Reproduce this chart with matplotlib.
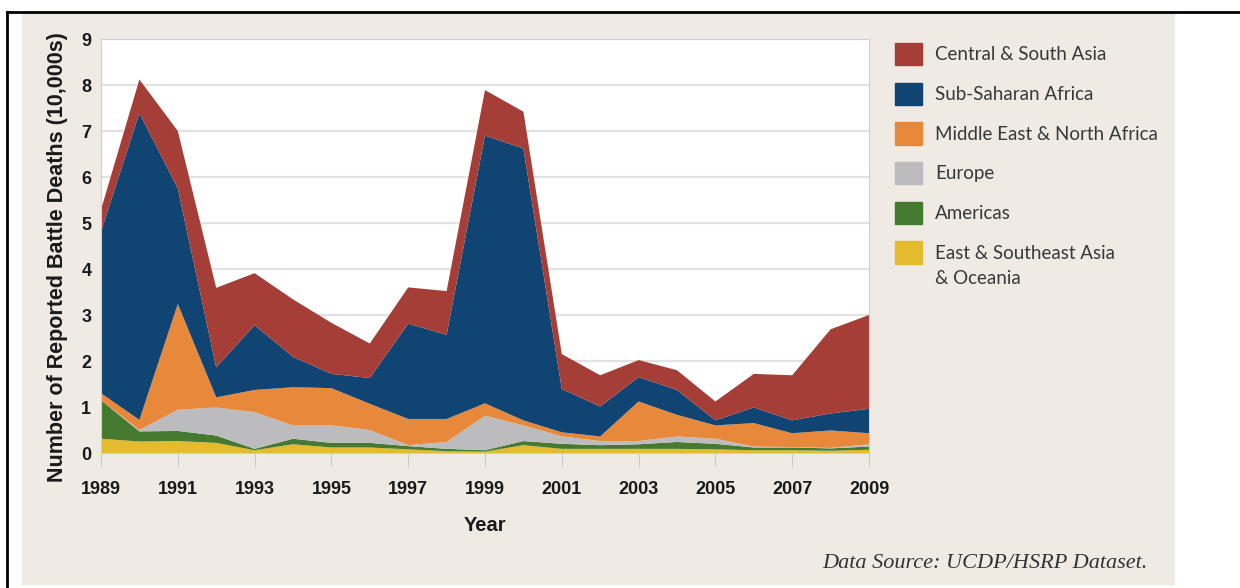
import matplotlib.pyplot as plt
from matplotlib.patches import Patch, Rectangle
from matplotlib.lines import Line2D

years = list(range(1989, 2010))

# battle deaths per region, in 10,000s
east_asia = [0.31, 0.25, 0.26, 0.22, 0.06, 0.19, 0.12, 0.12, 0.08, 0.04, 0.03,
             0.17, 0.09, 0.09, 0.09, 0.09, 0.08, 0.06, 0.06, 0.05, 0.07]
americas = [0.84, 0.22, 0.22, 0.16, 0.03, 0.12, 0.10, 0.10, 0.07, 0.05, 0.03,
            0.09, 0.11, 0.08, 0.10, 0.15, 0.12, 0.06, 0.06, 0.05, 0.07]
europe = [0.00, 0.03, 0.46, 0.61, 0.80, 0.29, 0.38, 0.28, 0.02, 0.15, 0.75,
          0.34, 0.16, 0.09, 0.07, 0.12, 0.11, 0.02, 0.01, 0.01, 0.05]
mena = [0.15, 0.22, 2.30, 0.22, 0.48, 0.83, 0.81, 0.57, 0.57, 0.50, 0.27,
        0.11, 0.09, 0.10, 0.86, 0.47, 0.29, 0.51, 0.30, 0.38, 0.24]
ssa = [3.51, 6.67, 2.51, 0.65, 1.41, 0.66, 0.31, 0.56, 2.07, 1.83, 5.82,
       5.91, 0.94, 0.65, 0.53, 0.54, 0.11, 0.34, 0.28, 0.37, 0.53]
csa = [0.48, 0.73, 1.25, 1.73, 1.13, 1.25, 1.11, 0.75, 0.79, 0.95, 0.99,
       0.80, 0.76, 0.68, 0.37, 0.43, 0.41, 0.73, 0.98, 1.83, 2.04]

labels = ['East & Southeast Asia', 'Americas', 'Europe',
          'Middle East & North Africa', 'Sub-Saharan Africa', 'Central & South Asia']
colors = ['#e3bb2c', '#467a30', '#bcbcbf', '#e8883a', '#0f4473', '#a63e38']

fig = plt.figure(figsize=(12.4, 5.88), dpi=100, facecolor='white')

# page decoration: beige panel + black border lines
fig.patches.append(Rectangle((22/1240, 1-584/588), (1174-22)/1240, (584-14)/588,
                             transform=fig.transFigure, color='#efebe4', zorder=-5))
fig.lines.append(Line2D([7/1240, 1], [1-12/588, 1-12/588], transform=fig.transFigure,
                        color='black', lw=2))
fig.lines.append(Line2D([7/1240, 7/1240], [0, 1-12/588], transform=fig.transFigure,
                        color='black', lw=2))

ax = fig.add_axes([101/1240, 1-453/588, (869-101)/1240, (453-39)/588])
ax.set_facecolor('white')
ax.stackplot(years, east_asia, americas, europe, mena, ssa, csa,
             colors=colors, labels=labels, lw=0)

ax.set_xlim(1989, 2009)
ax.set_ylim(0, 9)
ax.set_yticks(range(0, 10))
ax.set_xticks(range(1989, 2010, 2))
ax.grid(axis='y', color='#e2e2e2', lw=1.6)
ax.set_axisbelow(True)
for s in ax.spines.values():
    s.set_color('#d0d0d0')
ax.tick_params(axis='x', length=9, color='#c8c8c8', pad=11)
ax.tick_params(axis='y', length=0, pad=7)

tickfont = dict(family=['Liberation Sans', 'DejaVu Sans'], weight='bold', size=13)
for lab in ax.get_xticklabels() + ax.get_yticklabels():
    lab.set(**tickfont, color='#1a1a1a')

ax.set_xlabel('Year', fontdict=dict(family=['Liberation Sans', 'DejaVu Sans'],
              weight='bold', size=14.5), color='#1a1a1a', labelpad=13)
ax.set_ylabel('Number of Reported Battle Deaths (10,000s)',
              fontdict=dict(family=['Liberation Sans', 'DejaVu Sans'], weight='bold', size=15.5),
              color='#1a1a1a')
ax.yaxis.set_label_coords(-0.043, 0.473)

legfont = dict(family=['Lato', 'DejaVu Sans'], size=13.5)
handles = [Patch(color=c, label=l) for c, l in zip(colors, labels)][::-1]
leg = fig.legend(handles=handles, loc='upper left', bbox_to_anchor=(878/1240, 1-26/588),
                 frameon=False, prop=legfont,
                 handlelength=1.45, handleheight=1.45, handletextpad=0.7,
                 labelspacing=0.93)
for t in leg.get_texts():
    t.set_color('#383838')

# second line of the last legend label, placed under its first line
fig.canvas.draw()
bb = leg.get_texts()[-1].get_window_extent().transformed(fig.transFigure.inverted())
fig.text(bb.x0, bb.y0 - 8/588, '& Oceania', ha='left', va='top', color='#383838', **legfont)

fig.text(1148/1240, 1-563/588, 'Data Source: UCDP/HSRP Dataset.', ha='right', va='center',
         family=['Liberation Serif', 'DejaVu Serif'], style='italic', size=16, color='#333333')

fig.savefig('out.png', dpi=100, facecolor='white')
